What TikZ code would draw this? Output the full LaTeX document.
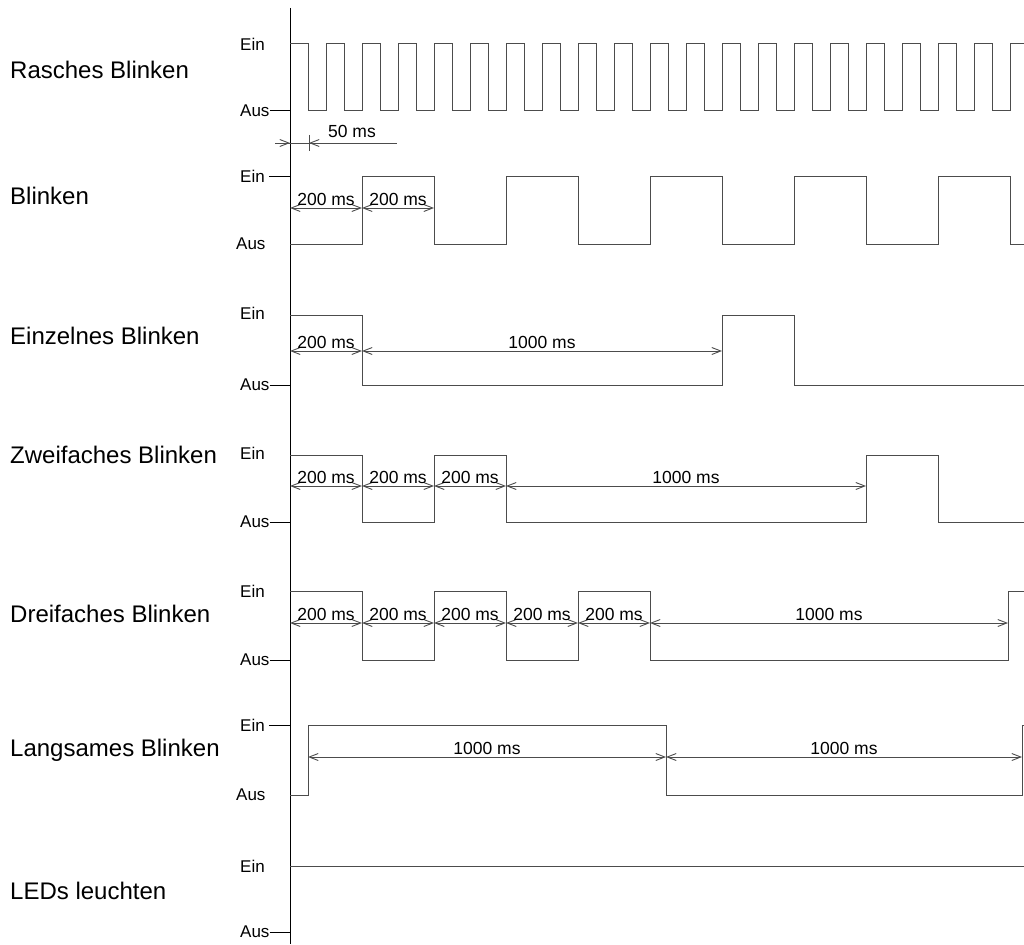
\documentclass[tikz,border=0pt]{standalone}
\usepackage{fontspec}
\setmainfont{Liberation Sans}
\usetikzlibrary{arrows.meta}
\tikzset{
  sig/.style={black!70, line width=1pt},
  dim/.style={black!70, line width=0.9pt, >={Straight Barb[length=9pt,width=7pt]}},
  rowlbl/.style={anchor=west, inner sep=0pt, font=\fontsize{24}{27}\selectfont},
  lvl/.style={anchor=west, inner sep=0pt, font=\fontsize{17}{19}\selectfont},
  dimlbl/.style={above, inner sep=1pt, yshift=1pt, text=black, font=\fontsize{17.5}{19}\selectfont},
}
\begin{document}
\begin{tikzpicture}[x=1pt, y=-1pt]
  \useasboundingbox (0,0) rectangle (1024,944);

  % Zeitachse
  \coordinate (axtop) at (290,8);
  \coordinate (axbot) at (290,944);
  \draw[black, line width=1pt] (axtop) -- (axbot);

  % --- Rasches Blinken ---
  \node[rowlbl] (rasch) at (10,70) {Rasches Blinken};
  \node[lvl] (raschEin) at (240,44) {Ein};
  \node[lvl] (raschAus) at (240,111) {Aus};
  \draw[black, line width=1pt] (raschAus.east) -- (raschAus.east -| axtop);
  \draw[sig] (290,44) \foreach \k in {1,...,20} { -- ++(18,0) -- ++(0,67) -- ++(18,0) -- ++(0,-67) } -- (1024,44);
  % 50 ms
  \draw[dim] (275,143) -- (397,143);
  \draw[dim, ->] (275,143) -- (290,143);
  \draw[dim, <-] (309,143) -- (397,143);
  \draw[dim] (309,135) -- (309,151);
  \node[inner sep=0pt, font=\fontsize{17.5}{19}\selectfont] (t50) at (352,131) {50 ms};

  % --- Blinken ---
  \node[rowlbl] (blink) at (10,196) {Blinken};
  \node[lvl] (blinkEin) at (240,176) {Ein};
  \node[lvl] (blinkAus) at (236,244) {Aus};
  \draw[black, line width=1pt] (blinkEin.east) ++(4,0) -- (blinkEin.east -| axtop);
  \draw[sig] (290,244) \foreach \k in {1,...,5} { -- ++(72,0) -- ++(0,-68) -- ++(72,0) -- ++(0,68) } -- (1024,244);
  \draw[dim, <->] (290,208) -- node[dimlbl] {200 ms} (362,208);
  \draw[dim, <->] (362,208) -- node[dimlbl] {200 ms} (434,208);

  % --- Einzelnes Blinken ---
  \node[rowlbl] (einz) at (10,336) {Einzelnes Blinken};
  \node[lvl] (einzEin) at (240,313) {Ein};
  \node[lvl] (einzAus) at (240,385) {Aus};
  \draw[black, line width=1pt] (einzAus.east) -- (einzAus.east -| axtop);
  \draw[sig] (290,315) -- (362,315) -- (362,385) -- (722,385) -- (722,315) -- (794,315) -- (794,385) -- (1024,385);
  \draw[dim, <->] (290,351) -- node[dimlbl] {200 ms} (362,351);
  \draw[dim, <->] (362,351) -- node[dimlbl] {1000 ms} (722,351);

  % --- Zweifaches Blinken ---
  \node[rowlbl] (zwei) at (10,455) {Zweifaches Blinken};
  \node[lvl] (zweiEin) at (240,453) {Ein};
  \node[lvl] (zweiAus) at (240,522) {Aus};
  \draw[black, line width=1pt] (zweiAus.east) -- (zweiAus.east -| axtop);
  \draw[sig] (290,455) -- (362,455) -- (362,522) -- (434,522) -- (434,455) -- (506,455) -- (506,522)
    -- (866,522) -- (866,455) -- (938,455) -- (938,522) -- (1024,522);
  \foreach \a/\b in {290/362, 362/434, 434/506}
    \draw[dim, <->] (\a,486) -- node[dimlbl] {200 ms} (\b,486);
  \draw[dim, <->] (506,486) -- node[dimlbl] {1000 ms} (866,486);

  % --- Dreifaches Blinken ---
  \node[rowlbl] (drei) at (10,614) {Dreifaches Blinken};
  \node[lvl] (dreiEin) at (240,591) {Ein};
  \node[lvl] (dreiAus) at (240,660) {Aus};
  \draw[black, line width=1pt] (dreiAus.east) -- (dreiAus.east -| axtop);
  \draw[sig] (290,591) -- (362,591) -- (362,660) -- (434,660) -- (434,591) -- (506,591) -- (506,660)
    -- (578,660) -- (578,591) -- (650,591) -- (650,660) -- (1008,660) -- (1008,591) -- (1024,591);
  \foreach \a/\b in {290/362, 362/434, 434/506, 506/578, 578/650}
    \draw[dim, <->] (\a,623) -- node[dimlbl] {200 ms} (\b,623);
  \draw[dim, <->] (650,623) -- node[dimlbl] {1000 ms} (1008,623);

  % --- Langsames Blinken ---
  \node[rowlbl] (lang) at (10,750) {Langsames Blinken};
  \node[lvl] (langEin) at (240,725) {Ein};
  \node[lvl] (langAus) at (236,795) {Aus};
  \draw[black, line width=1pt] (langEin.east) ++(4,0) -- (langEin.east -| axtop);
  \draw[sig] (290,795) -- (308,795) -- (308,725) -- (666,725) -- (666,795) -- (1022,795) -- (1022,725) -- (1024,725);
  \draw[dim, <->] (308,757) -- node[dimlbl] {1000 ms} (666,757);
  \draw[dim, <->] (666,757) -- node[dimlbl] {1000 ms} (1022,757);

  % --- LEDs leuchten ---
  \node[rowlbl] (led) at (10,891) {LEDs leuchten};
  \node[lvl] (ledEin) at (240,866) {Ein};
  \node[lvl] (ledAus) at (240,932) {Aus};
  \draw[black, line width=1pt] (ledAus.east) -- (ledAus.east -| axtop);
  \draw[sig] (290,866) -- (1024,866);
\end{tikzpicture}
\end{document}
